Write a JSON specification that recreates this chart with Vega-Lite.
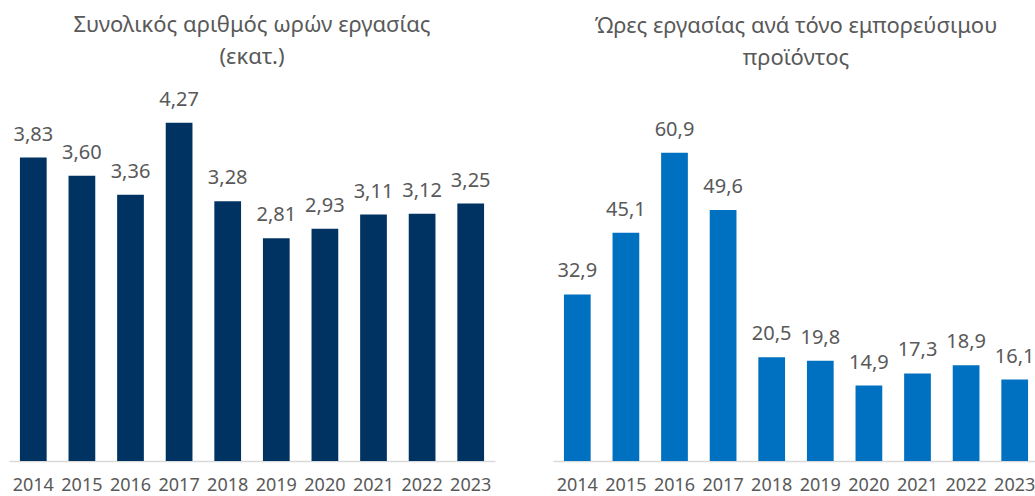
{
  "$schema": "https://vega.github.io/schema/vega-lite/v6.json",
  "padding": {"left": 9, "top": 13, "right": 0, "bottom": 0},
  "data": {"values": [
    {"year": "2014", "hours": 3.83, "per_ton": 32.9},
    {"year": "2015", "hours": 3.60, "per_ton": 45.1},
    {"year": "2016", "hours": 3.36, "per_ton": 60.9},
    {"year": "2017", "hours": 4.27, "per_ton": 49.6},
    {"year": "2018", "hours": 3.28, "per_ton": 20.5},
    {"year": "2019", "hours": 2.81, "per_ton": 19.8},
    {"year": "2020", "hours": 2.93, "per_ton": 14.9},
    {"year": "2021", "hours": 3.11, "per_ton": 17.3},
    {"year": "2022", "hours": 3.12, "per_ton": 18.9},
    {"year": "2023", "hours": 3.25, "per_ton": 16.1}
  ]},
  "spacing": 58,
  "hconcat": [
    {
      "title": {"text": ["Συνολικός αριθμός ωρών εργασίας", "(εκατ.)"]},
      "width": 486,
      "height": 370,
      "encoding": {
        "x": {"field": "year", "type": "ordinal", "title": null,
              "scale": {"paddingInner": 0.45, "paddingOuter": 0.225}},
        "y": {"field": "hours", "type": "quantitative", "axis": null,
              "scale": {"domain": [0, 4.67]}}
      },
      "layer": [
        {"mark": {"type": "bar", "color": "#003361"}},
        {"mark": {"type": "text", "baseline": "alphabetic", "dy": -17, "fontSize": 20, "color": "#595959", "font": "Noto Sans"},
         "encoding": {"text": {"field": "hours", "type": "quantitative", "format": ".2f"}}}
      ]
    },
    {
      "title": {"text": ["Ώρες εργασίας ανά τόνο εμπορεύσιμου", "προϊόντος"]},
      "width": 486,
      "height": 370,
      "encoding": {
        "x": {"field": "year", "type": "ordinal", "title": null,
              "scale": {"paddingInner": 0.45, "paddingOuter": 0.225}},
        "y": {"field": "per_ton", "type": "quantitative", "axis": null,
              "scale": {"domain": [0, 73.1]}}
      },
      "layer": [
        {"mark": {"type": "bar", "color": "#0070C0"}},
        {"mark": {"type": "text", "baseline": "alphabetic", "dy": -17, "fontSize": 20, "color": "#595959", "font": "Noto Sans"},
         "encoding": {"text": {"field": "per_ton", "type": "quantitative", "format": ".1f"}}}
      ]
    }
  ],
  "config": {
    "locale": {"number": {"decimal": ",", "thousands": ".", "grouping": [3], "currency": ["", " €"]}},
    "view": {"stroke": null},
    "font": "Noto Sans",
    "title": {"fontSize": 22, "fontWeight": "normal", "color": "#595959", "font": "Noto Sans", "lineHeight": 32, "offset": 21, "anchor": "middle"},
    "axisX": {"labelAngle": 0, "labelFontSize": 18, "labelColor": "#595959", "labelFont": "Noto Sans",
              "domainColor": "#d9d9d9", "domainWidth": 1.5, "ticks": false, "labelPadding": 15, "grid": false}
  }
}
